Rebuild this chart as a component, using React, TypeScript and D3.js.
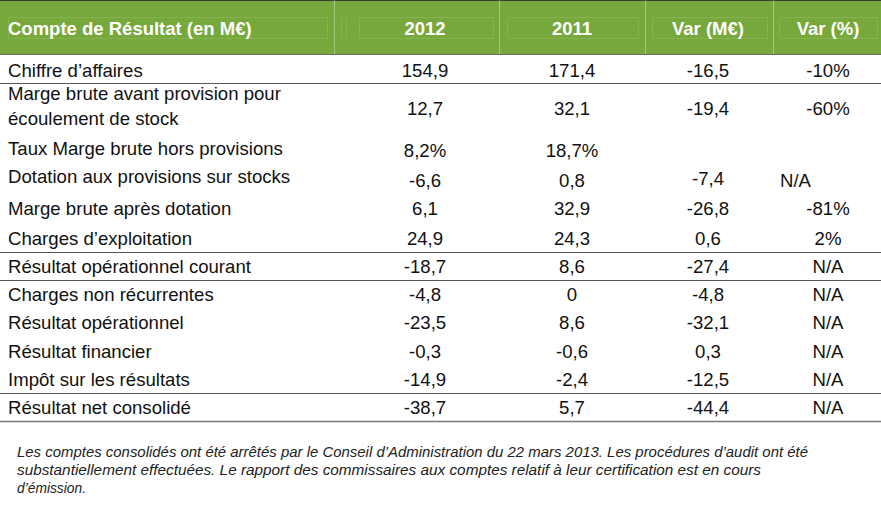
import React from "react";
import * as d3 from "d3";

const headers = ["Compte de Résultat (en M€)", "2012", "2011", "Var (M€)", "Var (%)"];
const rowLabels: string[][] = [
  ["Chiffre d’affaires"],
  ["Marge brute avant provision pour", "écoulement de stock"],
  ["Taux Marge brute hors provisions"],
  ["Dotation aux provisions sur stocks"],
  ["Marge brute après dotation"],
  ["Charges d’exploitation"],
  ["Résultat opérationnel courant"],
  ["Charges non récurrentes"],
  ["Résultat opérationnel"],
  ["Résultat financier"],
  ["Impôt sur les résultats"],
  ["Résultat net consolidé"],
];
const values2012 = ["154,9", "12,7", "8,2%", "-6,6", "6,1", "24,9", "-18,7", "-4,8", "-23,5", "-0,3", "-14,9", "-38,7"];
const values2011 = ["171,4", "32,1", "18,7%", "0,8", "32,9", "24,3", "8,6", "0", "8,6", "-0,6", "-2,4", "5,7"];
const varMEur = ["-16,5", "-19,4", "", "-7,4", "-26,8", "0,6", "-27,4", "-4,8", "-32,1", "0,3", "-12,5", "-44,4"];
const varPct = ["-10%", "-60%", "", "N/A", "-81%", "2%", "N/A", "N/A", "N/A", "N/A", "N/A", "N/A"];
const footnote = [
  "Les comptes consolidés ont été arrêtés par le Conseil d’Administration du 22 mars 2013. Les procédures d’audit ont été",
  "substantiellement effectuées. Le rapport des commissaires aux comptes relatif à leur certification est en cours",
  "d’émission.",
];

const W = 881;
const H = 507;
const FONT = "'Liberation Sans', Arial, Helvetica, sans-serif";
const GREEN = "#76a83b";

export default function App() {
  // layout
  const headerH = 54.5;
  const rowHeights = [29, 50, 30, 30, 30, 29, 28, 28, 28.5, 28, 28.5, 28];
  const ends = Array.from(d3.cumsum(rowHeights)).map((v) => v + headerH);
  const starts = [headerH, ...ends.slice(0, -1)];
  const centers = starts.map((s, i) => s + rowHeights[i] / 2);
  const ruleAfter = [0, 5, 6, 10, 11];
  const bodySize = 18.6;

  const colCenter = d3.scaleOrdinal<string, number>().domain(["2012", "2011", "varM", "varP"]).range([425, 572, 708, 828]);
  const columns = [
    { key: "2012", vals: values2012 },
    { key: "2011", vals: values2011 },
    { key: "varM", vals: varMEur },
    { key: "varP", vals: varPct },
  ];
  const labelDy = (i: number) => (i === 3 ? 4 : i === 0 ? 7.5 : 6.5);
  const valueDy = (i: number, key: string) => {
    if (i === 2) return 8;
    if (i === 3) return key === "varM" ? 6 : 8.5;
    if (i === 0) return 7.5;
    if (i === 1) return 6;
    return 6.5;
  };

  const headerSeps = [334, 499, 645, 773];
  const innerBoxes = [
    [8, 327],
    [341, 346],
    [359, 493],
    [507, 638],
    [652, 767],
    [779, 877],
  ];
  const headerX = [8, 425, 572, 708, 828];

  return (
    <svg
      width={W}
      height={H}
      style={{ position: "absolute", left: 0, top: 0, background: "#fff" }}
      fontFamily={FONT}
    >
      <rect x={0} y={0} width={W} height={H} fill="#fff" />
      <rect x={0} y={0} width={W} height={headerH} fill={GREEN} />
      <line x1={0} x2={W} y1={0.5} y2={0.5} stroke="#3a3a3a" strokeWidth={1} />
      {innerBoxes.map(([a, b], i) => (
        <rect key={i} x={a + 0.5} y={17.5} width={b - a} height={21} fill="none" stroke="#ffffff" strokeOpacity={0.12} />
      ))}
      {headerSeps.map((x, i) => (
        <line key={i} x1={x + 0.5} x2={x + 0.5} y1={0} y2={headerH} stroke="#ffffff" strokeOpacity={0.35} />
      ))}
      <line x1={0} x2={W} y1={headerH} y2={headerH} stroke="#6b6b6b" strokeWidth={1.2} />
      {headers.map((h, i) => (
        <text
          key={i}
          x={headerX[i]}
          y={35}
          fill="#fff"
          fontWeight="bold"
          fontSize={18.5}
          textAnchor={i === 0 ? "start" : "middle"}
        >
          {h}
        </text>
      ))}

      {rowLabels.map((lines, i) => (
        <g key={i}>
          {lines.length === 1 ? (
            <text x={8} y={centers[i] + labelDy(i)} fontSize={bodySize} fill="#111">
              {lines[0]}
            </text>
          ) : (
            lines.map((l, j) => (
              <text key={j} x={8} y={centers[i] - 9 + j * 25} fontSize={bodySize} fill="#111">
                {l}
              </text>
            ))
          )}
          {columns.map((c) => {
            const v = c.vals[i];
            if (!v) return null;
            const leftAligned = c.key === "varP" && i === 3;
            return (
              <text
                key={c.key}
                x={leftAligned ? 780 : (colCenter(c.key) as number)}
                y={centers[i] + valueDy(i, c.key)}
                fontSize={bodySize}
                fill="#111"
                textAnchor={leftAligned ? "start" : "middle"}
              >
                {v}
              </text>
            );
          })}
        </g>
      ))}

      {ruleAfter.map((ri) => (
        <line
          key={ri}
          x1={0}
          x2={W}
          y1={ends[ri]}
          y2={ends[ri]}
          stroke={ri === 11 ? "#777" : "#555"}
          strokeWidth={ri === 11 ? 1.6 : 1.2}
        />
      ))}

      {footnote.map((t, i) => (
        <text
          key={i}
          x={17}
          y={457 + i * 18}
          fontSize={13.8}
          fontStyle="italic"
          fill="#222"
          textLength={i === 0 ? 791 : i === 1 ? 744 : undefined}
          lengthAdjust="spacingAndGlyphs"
        >
          {t}
        </text>
      ))}
    </svg>
  );
}
